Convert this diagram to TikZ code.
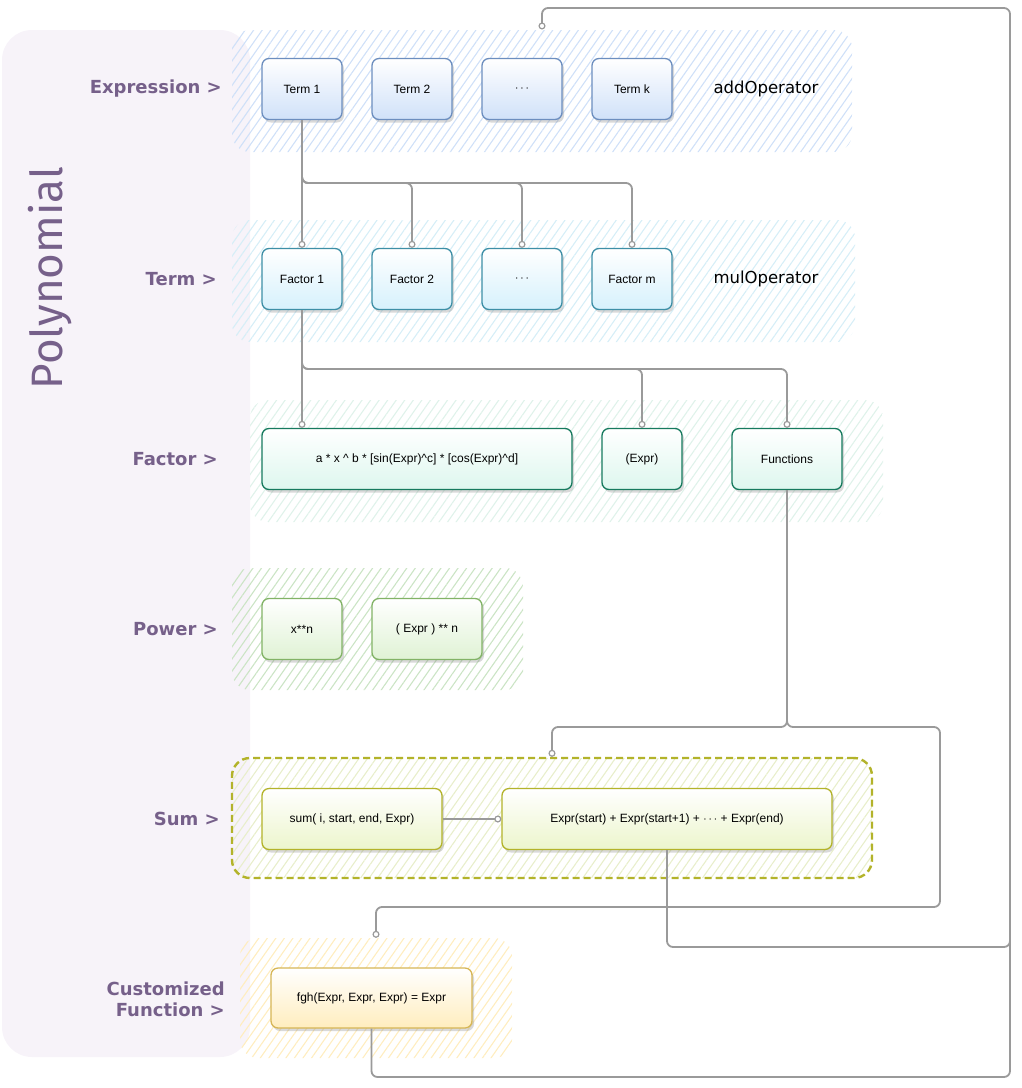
\documentclass[tikz,border=0pt]{standalone}
\usepackage{fontspec}
\setmainfont{Liberation Sans}
\newfontfamily\labelfont{DejaVu Sans}
\newfontfamily\titlefont{Fira Sans}
\usetikzlibrary{arrows.meta,patterns.meta,shadows}

\definecolor{panelbg}{HTML}{F7F3F9}
\definecolor{labelpurple}{HTML}{76608A}
\definecolor{linkgray}{HTML}{9A9A9A}
\definecolor{termfill}{HTML}{D0E1F9}
\definecolor{termline}{HTML}{6C8EBF}
\definecolor{termhatch}{HTML}{CFE0F8}
\definecolor{factorfill}{HTML}{D6F1FC}
\definecolor{factorline}{HTML}{3D8FA6}
\definecolor{factorhatch}{HTML}{D6EEF7}
\definecolor{prodfill}{HTML}{DDF7EE}
\definecolor{prodline}{HTML}{167A5E}
\definecolor{prodhatch}{HTML}{DFF2EA}
\definecolor{powfill}{HTML}{DFF2D4}
\definecolor{powline}{HTML}{82B366}
\definecolor{powhatch}{HTML}{CBE4C5}
\definecolor{sumfill}{HTML}{ECF5CC}
\definecolor{sumline}{HTML}{B3B32A}
\definecolor{sumhatch}{HTML}{E8EECB}
\definecolor{funcfill}{HTML}{FFEDBE}
\definecolor{funcline}{HTML}{D6B656}
\definecolor{funchatch}{HTML}{FFEDBF}

\tikzset{
  box/.style={draw=#1line, line width=1.3pt, rounded corners=7pt,
    top color=white, bottom color=#1fill, minimum height=61pt, inner sep=2pt,
    font=\fontsize{12}{14}\selectfont,
    drop shadow={shadow xshift=2pt, shadow yshift=-3pt, opacity=0.3}},
  band/.style={draw=none, rounded corners=18pt, inner sep=0pt,
    pattern={Lines[angle=55, distance=7pt, line width=1.1pt]}, pattern color=#1},
  rowlabel/.style={font=\labelfont\bfseries\fontsize{18}{21}\selectfont,
    text=labelpurple, anchor=east, align=right, inner sep=0pt},
  oplabel/.style={font=\labelfont\fontsize{16.5}{19}\selectfont},
  link/.style={draw=linkgray, line width=1.8pt, rounded corners=6pt,
    -{Circle[fill=white, length=7pt, width=7pt, line width=1.2pt]}},
  linkplain/.style={draw=linkgray, line width=1.8pt, rounded corners=6pt}
}

\begin{document}
\begin{tikzpicture}[x=1pt, y=-1pt]
    \useasboundingbox (0,0) rectangle (1022,1088);

    \fill[panelbg, rounded corners=30pt] (2,30) rectangle (250,1057);
    \node[rotate=90, text=labelpurple, font=\titlefont\fontsize{44}{50}\selectfont] (title) at (50,278) {Polynomial};

    \node[band=termhatch, minimum width=620pt, minimum height=122pt] (exgrp) at (542,91) {};
    \node[band=factorhatch, minimum width=623pt, minimum height=122pt] (tmgrp) at (543.5,281) {};
    \node[band=prodhatch, minimum width=633pt, minimum height=122pt] (fcgrp) at (566.5,461) {};
    \node[band=powhatch, minimum width=291pt, minimum height=122pt] (pwgrp) at (377.5,629) {};
    \node[band=sumhatch, minimum width=640pt, minimum height=120pt, draw=sumline, line width=2.4pt,
      dash pattern=on 7pt off 4pt] (sumgrp) at (552,818) {};
    \node[band=funchatch, minimum width=272pt, minimum height=120pt] (cfgrp) at (376,998) {};

    \node[rowlabel] (lexpr) at (222,89) {Expression >};
    \node[rowlabel] (lterm) at (217,279) {Term >};
    \node[rowlabel] (lfact) at (218,459) {Factor >};
    \node[rowlabel] (lpow) at (218,629) {Power >};
    \node[rowlabel] (lsum) at (220,819) {Sum >};
    \node[rowlabel] (lfunc) at (225,999) {Customized\\Function >};

    \node[box=term, minimum width=80pt] (t1) at (302,89) {Term 1};
    \node[box=term, minimum width=80pt] (t2) at (412,89) {Term 2};
    \node[box=term, minimum width=80pt] (t3) at (522,89) {$\cdots$};
    \node[box=term, minimum width=80pt] (t4) at (632,89) {Term k};
    \node[oplabel] (addop) at (766,89) {addOperator};

    \node[box=factor, minimum width=80pt] (f1) at (302,279) {Factor 1};
    \node[box=factor, minimum width=80pt] (f2) at (412,279) {Factor 2};
    \node[box=factor, minimum width=80pt] (f3) at (522,279) {$\cdots$};
    \node[box=factor, minimum width=80pt] (f4) at (632,279) {Factor m};
    \node[oplabel] (mulop) at (766,279) {mulOperator};

    \node[box=prod, minimum width=310pt] (fa) at (417,459)
      {a * x \textasciicircum{} b * [sin(Expr)\textasciicircum c] * [cos(Expr)\textasciicircum d]};
    \node[box=prod, minimum width=80pt] (fb) at (642,459) {(Expr)};
    \node[box=prod, minimum width=110pt] (fc) at (787,459) {Functions};

    \node[box=pow, minimum width=80pt] (p1) at (302,629) {x**n};
    \node[box=pow, minimum width=110pt] (p2) at (427,629) {( Expr ) ** n};

    \node[box=sum, minimum width=180pt] (s1) at (352,819) {sum( i, start, end, Expr)};
    \node[box=sum, minimum width=330pt] (sb) at (667,819) {Expr(start) + Expr(start+1) + $\cdots$ + Expr(end)};

    \node[box=func, minimum width=201pt, minimum height=60pt] (cf) at (371.5,998) {fgh(Expr, Expr, Expr) = Expr};

    \coordinate (tbus) at (302,183);
    \coordinate (fbus) at (302,369);
    \coordinate (sbus) at (787,727);
    \coordinate (rbend) at (940,907);
    \coordinate (rback) at (1010,947);
    \coordinate (rmid) at (1010,600);
    \coordinate (rtop) at (1010,8);
    \coordinate (rbot) at (1010,1077);

    \draw[link] (t1.south) -- (f1.north);
    \draw[link] (t1.south) |- (f2.north |- tbus) -- (f2.north);
    \draw[link] (t1.south) |- (f3.north |- tbus) -- (f3.north);
    \draw[link] (t1.south) |- (f4.north |- tbus) -- (f4.north);

    \draw[link] (f1.south) -- (f1.south |- fa.north);
    \draw[link] (f1.south) |- (fb.north |- fbus) -- (fb.north);
    \draw[link] (f1.south) |- (fc.north |- fbus) -- (fc.north);

    \draw[link] (fc.south) |- (sumgrp.north |- sbus) -- (sumgrp.north);
    \draw[link] (fc.south) |- (rbend |- sbus) |- (cfgrp.north |- rbend) -- (cfgrp.north);

    \draw[link] (s1.east) -- (sb.west);
    \draw[link] (sb.south) |- (rback) |- (exgrp.north |- rtop) -- (exgrp.north);
    \draw[linkplain] (cf.south) |- (rbot) -- (rmid);

\end{tikzpicture}
\end{document}
